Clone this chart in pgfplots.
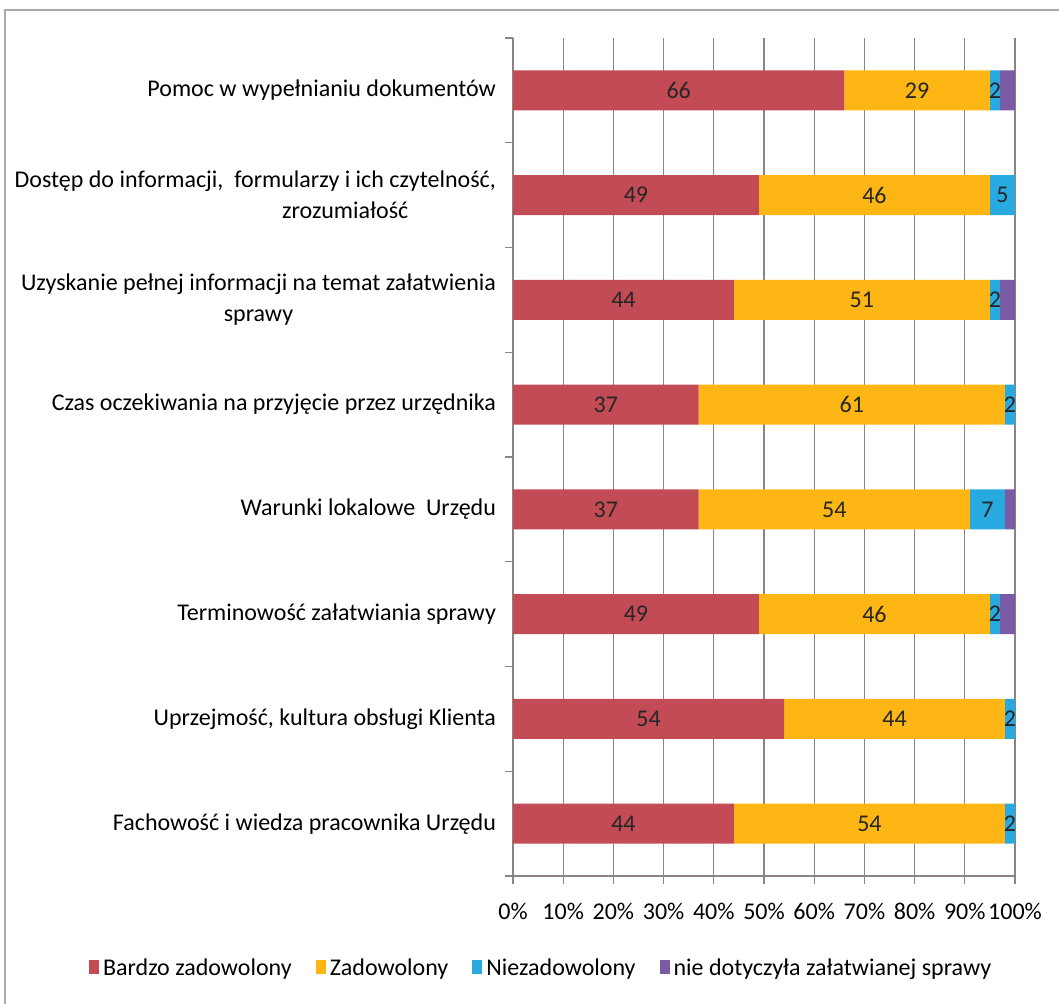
\documentclass[border=0pt]{standalone}
\usepackage{pgfplots}
\pgfplotsset{compat=1.18}
\usepackage{pgfplotstable}
\usepackage{fontspec}
\setmainfont{Carlito}

\definecolor{cRed}{HTML}{C24B55}
\definecolor{cOrange}{HTML}{FDB614}
\definecolor{cBlue}{HTML}{28A9DF}
\definecolor{cPurple}{HTML}{7B5BA6}
\definecolor{cGrid}{HTML}{8C8484}

% y: 0 = bottom row (Fachowość) ... 7 = top row (Pomoc)
\pgfplotstableread{
y  bz  z   nz  nd
0  44  54  2   0
1  54  44  2   0
2  49  46  2   3
3  37  54  7   2
4  37  61  2   0
5  44  51  2   3
6  49  46  5   0
7  66  29  2   3
}\satisf

\begin{document}
\begin{tikzpicture}[x=1pt,y=1pt]
\useasboundingbox (0,0) rectangle (529.5,-501.5);
\draw[cGrid!70, line width=1pt] (2.5,-5) rectangle (532,-504);
\begin{axis}[
  at={(256.5pt,-438pt)}, anchor=south west,
  scale only axis, width=251pt, height=419pt,
  xbar stacked, bar width=20pt,
  xmin=0, xmax=100, ymin=-0.5, ymax=7.5,
  xtick={0,10,...,100},
  xticklabel={\pgfmathprintnumber{\tick}\%},
  /pgf/number format/assume math mode=true,
  xmajorgrids, grid style={cGrid, line width=0.6pt},
  axis lines*=left,
  axis line style={cGrid, line width=0.6pt},
  tick style={cGrid, line width=0.6pt},
  tick align=outside,
  major tick length=4pt,
  minor tick length=4pt,
  ytick={0,...,7},
  major y tick style={draw=none},
  minor ytick={-0.5,0.5,...,7.5},
  yticklabels={
    {Fachowość i wiedza pracownika Urzędu},
    {Uprzejmość, kultura obsługi Klienta},
    {Terminowość załatwiania sprawy},
    {Warunki lokalowe\ \ Urzędu},
    {Czas oczekiwania na przyjęcie przez urzędnika},
    {Uzyskanie pełnej informacji na temat załatwienia\\sprawy},
    {Dostęp do informacji,\ \ formularzy i ich czytelność,\\\hspace*{90pt}zrozumiałość},
    {Pomoc w wypełnianiu dokumentów}},
  yticklabel style={align=center, font=\fontsize{12}{15.5}\selectfont, xshift=-1pt},
  xticklabel style={font=\fontsize{12}{14}\selectfont, yshift=-6pt},
  point meta=rawx,
  nodes near coords,
  every node near coord/.append style={
    anchor=center, font=\fontsize{12}{14}\selectfont, text=black!85},
  legend columns=4,
  legend style={draw=none, fill=none, at={(0.058,-0.11)}, anchor=center,
    font=\fontsize{12}{14}\selectfont,
    /tikz/every even column/.append style={column sep=10pt}},
  legend image code/.code={\fill[#1] (0pt,-3pt) rectangle (5pt,4pt);},
]
\addplot[fill=cRed, draw=none] table[x=bz, y=y] {\satisf};
\addplot[fill=cOrange, draw=none] table[x=z, y=y] {\satisf};
\addplot[fill=cBlue, draw=none] table[x=nz, y=y] {\satisf};
\addplot[fill=cPurple, draw=none, nodes near coords=] table[x=nd, y=y] {\satisf};
\legend{Bardzo zadowolony, Zadowolony, Niezadowolony, nie dotyczyła załatwianej sprawy}
\end{axis}
\end{tikzpicture}
\end{document}
